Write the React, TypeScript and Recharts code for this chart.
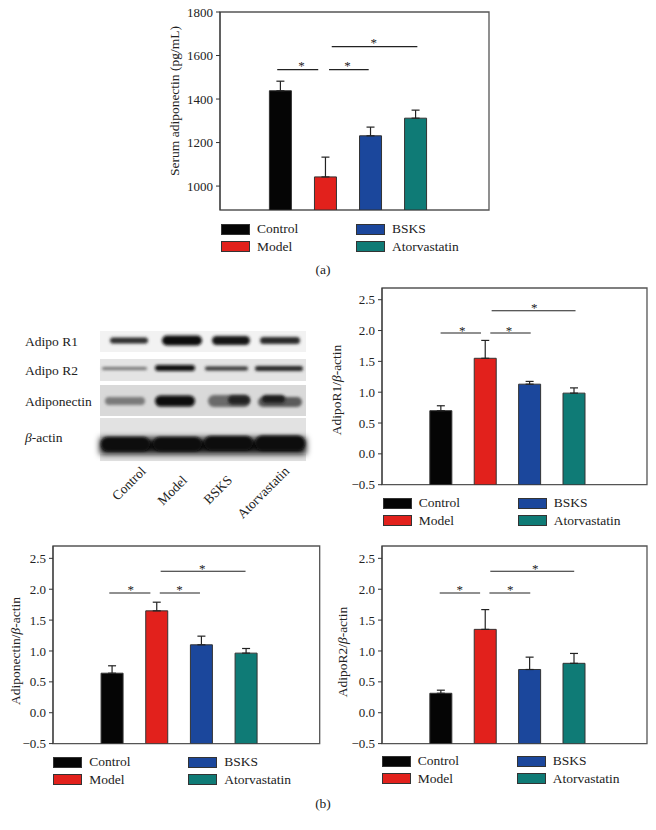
import React from 'react'
import {
  BarChart,
  Bar,
  Cell,
  XAxis,
  YAxis,
  ErrorBar,
  ReferenceArea,
  ReferenceLine,
  ReferenceDot,
} from 'recharts'

const FONT = '"Liberation Serif", "Times New Roman", serif'

// groups and colours
const groups = ['Control', 'Model', 'BSKS', 'Atorvastatin']
const groupX = [1, 2, 3, 4]
const colors = ['#050505', '#e2211c', '#1b479c', '#0f7b76']

// (a) serum adiponectin
const serumMean = [1438, 1042, 1231, 1312]
const serumErr = [44, 91, 40, 37]
const serumTicks = [1000, 1200, 1400, 1600, 1800]

// (b) western blot ratios
const r1Mean = [0.7, 1.55, 1.13, 0.985]
const r1Err = [0.08, 0.29, 0.045, 0.085]
const adipoMean = [0.64, 1.65, 1.1, 0.965]
const adipoErr = [0.12, 0.14, 0.14, 0.075]
const r2Mean = [0.315, 1.35, 0.7, 0.8]
const r2Err = [0.05, 0.32, 0.2, 0.16]
const ratioTicks = [-0.5, 0, 0.5, 1, 1.5, 2, 2.5]

// significance brackets (x in group units, y in data units)
const serumBrackets = [
  { x1: 0.94, x2: 1.85, y: 1535 },
  { x1: 2.09, x2: 2.97, y: 1535 },
  { x1: 2.15, x2: 4.05, y: 1641 },
]
const serumStars = [
  { x: 1.48, y: 1535 },
  { x: 2.5, y: 1535 },
  { x: 3.08, y: 1641 },
]
const r1Brackets = [
  { x1: 0.99, x2: 1.9, y: 1.96 },
  { x1: 2.11, x2: 3.02, y: 1.96 },
  { x1: 2.14, x2: 4.03, y: 2.32 },
]
const r1Stars = [
  { x: 1.48, y: 1.96 },
  { x: 2.53, y: 1.96 },
  { x: 3.1, y: 2.32 },
]
const adipoBrackets = [
  { x1: 0.93, x2: 1.85, y: 1.94 },
  { x1: 2.06, x2: 2.96, y: 1.94 },
  { x1: 2.08, x2: 3.98, y: 2.29 },
]
const adipoStars = [
  { x: 1.41, y: 1.94 },
  { x: 2.5, y: 1.94 },
  { x: 3.01, y: 2.29 },
]
const r2Brackets = [
  { x1: 0.97, x2: 1.88, y: 1.94 },
  { x1: 2.09, x2: 3.01, y: 1.94 },
  { x1: 2.11, x2: 4.0, y: 2.29 },
]
const r2Stars = [
  { x: 1.42, y: 1.94 },
  { x: 2.56, y: 1.94 },
  { x: 3.12, y: 2.29 },
]

const X_DOMAIN: [number, number] = [-0.33, 5.64]
const YW = 50

const fmtRatio = (v: number) => (v < 0 ? '\u2212' + Math.abs(v).toFixed(1) : v.toFixed(1))

type Box = { l: number; t: number; r: number; b: number }

function Panel(props: {
  box: Box
  mean: number[]
  err: number[]
  yDomain: [number, number]
  ticks: number[]
  fmt?: (v: number) => string
  brackets: { x1: number; x2: number; y: number }[]
  stars: { x: number; y: number }[]
  starOffset: number
}) {
  const { box, mean, err, yDomain, ticks, fmt, brackets, stars, starOffset } = props
  const w = box.r - box.l
  const h = box.b - box.t
  // bars rise from the bottom of the axis, so each one is a range [axis min, mean]
  const rows = groups.map((g, i) => ({
    name: g,
    x: groupX[i],
    range: [yDomain[0], mean[i]],
    err: [0, err[i]],
  }))

  return (
    <div style={{ position: 'absolute', left: box.l - YW, top: box.t - 10 }}>
      <BarChart
        width={w + YW + 10}
        height={h + 20}
        data={rows}
        margin={{ top: 10, right: 10, bottom: 10, left: 0 }}
      >
        <XAxis type="number" dataKey="x" domain={X_DOMAIN} allowDataOverflow hide />
        <YAxis
          type="number"
          domain={yDomain}
          ticks={ticks}
          allowDataOverflow
          interval={0}
          width={YW}
          tickSize={4}
          tickMargin={3}
          tickFormatter={fmt}
          stroke="#333"
          tick={{ fill: '#222', fontSize: 13, fontFamily: FONT }}
        />
        <ReferenceArea
          x1={X_DOMAIN[0]}
          x2={X_DOMAIN[1]}
          y1={yDomain[0]}
          y2={yDomain[1]}
          fill="none"
          stroke="#555"
          strokeWidth={1.3}
          ifOverflow="visible"
        />
        <Bar dataKey="range" barSize={22} stroke="#333" strokeWidth={1} isAnimationActive={false}>
          {rows.map((r, i) => (
            <Cell key={r.name} fill={colors[i]} />
          ))}
          <ErrorBar dataKey="err" width={4} stroke="#222" strokeWidth={1.2} direction="y" />
        </Bar>
        {brackets.map((b, i) => (
          <ReferenceLine
            key={'b' + i}
            segment={[
              { x: b.x1, y: b.y },
              { x: b.x2, y: b.y },
            ]}
            stroke="#222"
            strokeWidth={1.1}
            ifOverflow="visible"
          />
        ))}
        {stars.map((s, i) => (
          <ReferenceDot
            key={'s' + i}
            x={s.x}
            y={s.y}
            r={1}
            fill="none"
            stroke="none"
            ifOverflow="visible"
            label={{ value: '*', position: 'top', offset: starOffset, fontSize: 13, fill: '#222', fontFamily: FONT }}
          />
        ))}
      </BarChart>
    </div>
  )
}

function GroupLegend({ left, top }: { left: number; top: number }) {
  return (
    <>
      {groups.map((g, i) => {
        const col = i === 0 || i === 1 ? 0 : 1
        const row = i === 0 || i === 2 ? 0 : 1
        return (
          <div
            key={g}
            style={{
              position: 'absolute',
              left: left + col * 135,
              top: top + row * 17.5 - 9,
              height: 18,
              display: 'flex',
              alignItems: 'center',
              fontFamily: FONT,
              fontSize: 13.5,
              color: '#222',
              whiteSpace: 'nowrap',
            }}
          >
            <span
              style={{
                display: 'inline-block',
                width: 27,
                height: 9,
                background: colors[i],
                border: '1px solid #333',
                marginRight: 7,
              }}
            />
            {g}
          </div>
        )
      })}
    </>
  )
}

function YLabel({ cx, cy, children }: { cx: number; cy: number; children: React.ReactNode }) {
  return (
    <div
      style={{
        position: 'absolute',
        left: cx,
        top: cy,
        transform: 'translate(-50%, -50%) rotate(-90deg)',
        fontFamily: FONT,
        fontSize: 13.5,
        color: '#222',
        whiteSpace: 'nowrap',
      }}
    >
      {children}
    </div>
  )
}

function Caption({ cx, cy, text }: { cx: number; cy: number; text: string }) {
  return (
    <div
      style={{
        position: 'absolute',
        left: cx,
        top: cy,
        transform: 'translate(-50%, -50%)',
        fontFamily: FONT,
        fontSize: 13.5,
        color: '#222',
      }}
    >
      {text}
    </div>
  )
}

// western blot picture (not data driven, just an illustration)
function Blot() {
  const band = (x1: number, x2: number, cy: number, h: number, fill: string, key: string) => (
    <rect key={key} x={x1} y={cy - h / 2} width={x2 - x1} height={h} rx={h / 2} fill={fill} filter="url(#blur)" />
  )
  return (
    <svg
      width={320}
      height={240}
      style={{ position: 'absolute', left: 0, top: 290 }}
      fontFamily={FONT}
    >
      <defs>
        <filter id="blur" x="-20%" y="-80%" width="140%" height="260%">
          <feGaussianBlur stdDeviation="1.6" />
        </filter>
        <filter id="blur2" x="-20%" y="-80%" width="140%" height="260%">
          <feGaussianBlur stdDeviation="3" />
        </filter>
      </defs>
      <g transform="translate(0,-290)">
        <text x={25} y={346} fontSize={13.5} fill="#222">Adipo R1</text>
        <text x={25} y={374.5} fontSize={13.5} fill="#222">Adipo R2</text>
        <text x={25} y={406} fontSize={13.5} fill="#222">Adiponectin</text>
        <text x={25} y={442} fontSize={13.5} fill="#222">
          <tspan fontStyle="italic">β</tspan>-actin
        </text>

        <rect x={100} y={331} width={206} height={21} fill="#f2f2f2" />
        <rect x={100} y={359} width={206} height={22} fill="#e4e4e4" />
        <rect x={100} y={385} width={206} height={31} fill="#d9d9d9" />
        <rect x={100} y={418} width={206} height={43} fill="#e2e2e2" />

        {band(110, 148, 340.5, 6, '#2e2e2e', 'a1')}
        {band(162, 202, 340.5, 10, '#111', 'a2')}
        {band(212, 250, 340.5, 9, '#161616', 'a3')}
        {band(260, 300, 340.5, 7, '#2a2a2a', 'a4')}

        {band(102, 147, 368.5, 3, '#707070', 'b1')}
        {band(155, 195, 368, 6, '#111', 'b2')}
        {band(205, 248, 368.5, 4, '#303030', 'b3')}
        {band(255, 303, 368.5, 5, '#262626', 'b4')}

        {band(105, 145, 401, 8, '#7a7a7a', 'c1')}
        {band(155, 195, 401, 11, '#0a0a0a', 'c2')}
        {band(208, 250, 401, 12, '#6a6a6a', 'c3')}
        {band(228, 250, 400, 9, '#222', 'c3b')}
        {band(258, 302, 402, 10, '#5a5a5a', 'c4')}
        {band(262, 285, 399, 8, '#1a1a1a', 'c4b')}

        <rect x={100} y={438} width={206} height={16} fill="#111" filter="url(#blur2)" />
        {band(101, 150, 444, 14, '#0c0c0c', 'd1')}
        {band(153, 202, 444, 14, '#0c0c0c', 'd2')}
        {band(204, 253, 443, 14, '#0c0c0c', 'd3')}
        {band(255, 305, 443, 15, '#0c0c0c', 'd4')}

        <text x={146.7} y={472} fontSize={13.5} fill="#222" textAnchor="end" transform="rotate(-45 146.7 472)">Control</text>
        <text x={188} y={481} fontSize={13.5} fill="#222" textAnchor="end" transform="rotate(-45 188 481)">Model</text>
        <text x={233} y={481} fontSize={13.5} fill="#222" textAnchor="end" transform="rotate(-45 233 481)">BSKS</text>
        <text x={290} y={472} fontSize={13.5} fill="#222" textAnchor="end" transform="rotate(-45 290 472)">Atorvastatin</text>
      </g>
    </svg>
  )
}

export default function App() {
  const boxA: Box = { l: 220, t: 12, r: 489, b: 210 }
  const boxR1: Box = { l: 381.7, t: 288.3, r: 646.7, b: 485 }
  const boxAd: Box = { l: 53.3, t: 545.7, r: 320, b: 743.3 }
  const boxR2: Box = { l: 381.7, t: 545.7, r: 646.7, b: 743.3 }

  return (
    <div style={{ position: 'absolute', left: 0, top: 0, width: 656, height: 830, background: '#fff' }}>
      <Panel
        box={boxA}
        mean={serumMean}
        err={serumErr}
        yDomain={[890, 1800]}
        ticks={serumTicks}
        brackets={serumBrackets}
        stars={serumStars}
        starOffset={-1}
      />
      <YLabel cx={175} cy={101}>Serum adiponectin (pg/mL)</YLabel>
      <GroupLegend left={boxA.l + 1} top={boxA.b + 19} />
      <Caption cx={323} cy={270} text="(a)" />

      <Blot />

      <Panel
        box={boxR1}
        mean={r1Mean}
        err={r1Err}
        yDomain={[-0.5, 2.69]}
        ticks={ratioTicks}
        fmt={fmtRatio}
        brackets={r1Brackets}
        stars={r1Stars}
        starOffset={-2.5}
      />
      <YLabel cx={336.7} cy={390}>
        AdipoR1/<i>β</i>-actin
      </YLabel>
      <GroupLegend left={boxR1.l + 1} top={boxR1.b + 18.3} />

      <Panel
        box={boxAd}
        mean={adipoMean}
        err={adipoErr}
        yDomain={[-0.5, 2.7]}
        ticks={ratioTicks}
        fmt={fmtRatio}
        brackets={adipoBrackets}
        stars={adipoStars}
        starOffset={-2.5}
      />
      <YLabel cx={16} cy={651}>
        Adiponectin/<i>β</i>-actin
      </YLabel>
      <GroupLegend left={boxAd.l} top={boxAd.b + 19} />

      <Panel
        box={boxR2}
        mean={r2Mean}
        err={r2Err}
        yDomain={[-0.5, 2.7]}
        ticks={ratioTicks}
        fmt={fmtRatio}
        brackets={r2Brackets}
        stars={r2Stars}
        starOffset={-2.5}
      />
      <YLabel cx={343} cy={651.7}>
        AdipoR2/<i>β</i>-actin
      </YLabel>
      <GroupLegend left={boxR2.l} top={boxR2.b + 18} />

      <Caption cx={323} cy={804} text="(b)" />
    </div>
  )
}
